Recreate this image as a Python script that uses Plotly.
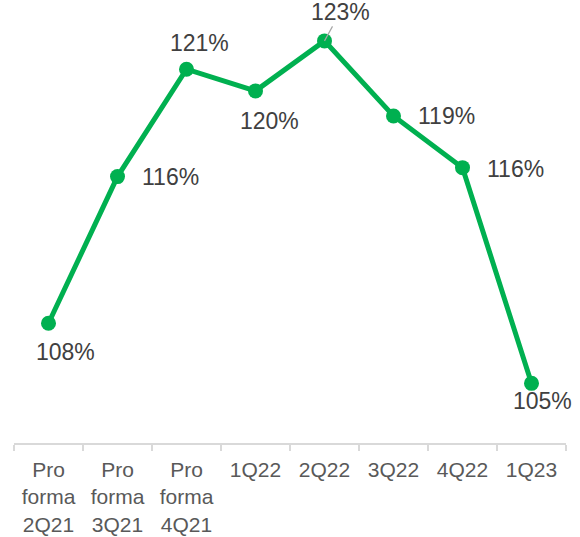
import plotly.graph_objects as go

categories = ["Pro<br>forma<br>2Q21", "Pro<br>forma<br>3Q21", "Pro<br>forma<br>4Q21",
              "1Q22", "2Q22", "3Q22", "4Q22", "1Q23"]
values = [107.84, 115.56, 121.21, 120.07, 122.7, 118.75, 116.03, 104.68]
# label offsets in pixels (dx right, dy down) relative to each point
label_dx = [17, 53, 13, 14, 16, 53, 53, 11]
label_dy = [29, 0, -26, 30, -29, 0, 1, 18]
label_arrow = [False, False, False, False, True, False, False, False]

GREEN = "#00B050"
FONT = "Arial, Liberation Sans, sans-serif"

fig = go.Figure()
fig.add_trace(go.Scatter(
    x=categories, y=values, mode="lines+markers",
    line=dict(color=GREEN, width=5),
    marker=dict(color=GREEN, size=15),
    hoverinfo="skip", cliponaxis=False,
))

for c, v, dx, dy, arr in zip(categories, values, label_dx, label_dy, label_arrow):
    txt = f"{round(v):d}%"
    if arr:
        fig.add_annotation(x=c, y=v, xref="x", yref="y", text=txt, showarrow=True,
                           ax=dx, ay=dy, arrowhead=0, arrowwidth=1.2, arrowcolor="#a6a6a6",
                           font=dict(family=FONT, size=23, color="#404040"))
    else:
        fig.add_annotation(x=c, y=v, xref="x", yref="y", text=txt, showarrow=False,
                           xshift=dx, yshift=-dy,
                           font=dict(family=FONT, size=23, color="#404040"))

fig.update_layout(
    width=580, height=537,
    margin=dict(l=14, r=14, t=20, b=94, autoexpand=False),
    paper_bgcolor="white", plot_bgcolor="white",
    showlegend=False,
    xaxis=dict(
        type="category", range=[-0.5, 7.5], automargin=False,
        showline=True, linecolor="#d9d9d9", linewidth=1.5,
        ticks="outside", tickson="boundaries", ticklen=6, tickcolor="#d9d9d9", tickwidth=1.5,
        showgrid=False, zeroline=False, ticklabelstandoff=7,
        tickfont=dict(family=FONT, size=21, color="#595959"),
    ),
    yaxis=dict(range=[101.54, 123.80], visible=False, showgrid=False, zeroline=False,
               automargin=False),
)

fig.write_html("out.html")
